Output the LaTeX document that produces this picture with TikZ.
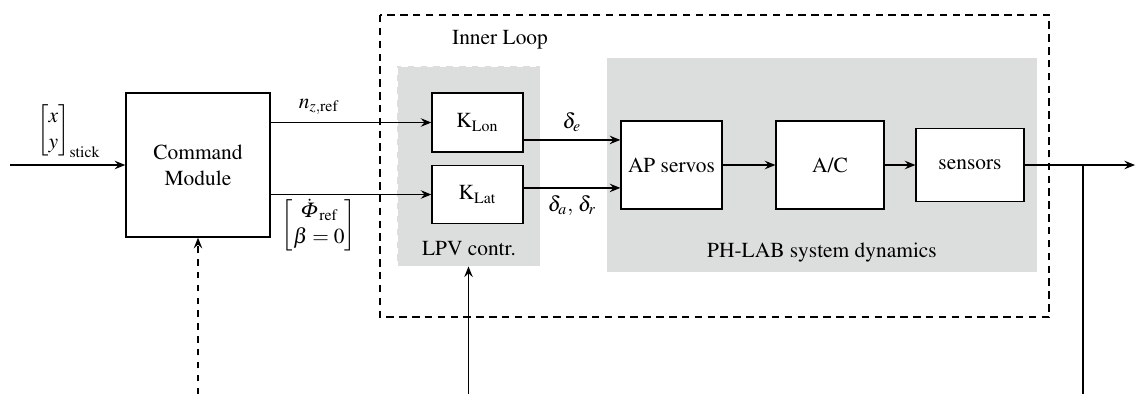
\documentclass[tikz,border=0pt]{standalone}
\usepackage{amsmath}
\usepackage[T1]{fontenc}
\usepackage{mathptmx}
\usetikzlibrary{arrows.meta}
\definecolor{grigio}{RGB}{220,221,221}
\newcommand{\phiobl}{\tikz[baseline=(phiobl.base)]\node[xslant=0.22, transform shape, inner sep=0pt] (phiobl) {$\Phi$};}
\tikzset{
  blocco/.style={draw, semithick, fill=white, align=center, inner sep=1pt},
  sfondo/.style={fill=grigio, inner sep=0pt},
  freccia/.style={semithick, -{Stealth[length=5pt,width=4pt,inset=1.8pt]}},
  anello/.style={semithick, dash pattern=on 3.5pt off 2.5pt}
}
\begin{document}
\begin{tikzpicture}[x=0.467pt,y=-0.467pt]
    %area del disegno
        \useasboundingbox (0,0) rectangle (1137,394);
        %riquadro anello interno
        \draw[anello] (380,15) rectangle (1049,317);
        \node (inner) at (500,40) {Inner Loop};
        %sfondi grigi
        \node[sfondo, draw=white, dashed, minimum width=66.8pt, minimum height=93.4pt] (lpv) at (468.5,166) {};
        \node[sfondo, minimum width=200.8pt, minimum height=99.9pt] (phlab) at (822,165) {};
        \node (lpvlab) at (469,249) {LPV contr.};
        \node (phlablab) at (822,253) {PH-LAB system dynamics};
        %disegno blocchi
        \node[blocco, minimum width=67.3pt, minimum height=67.3pt] (cmd) at (198,165) {Command\\Module};
        \node[blocco, minimum width=42.5pt, minimum height=27.5pt] (klon) at (477.5,122.5) {K$_{\text{Lon}}$};
        \node[blocco, minimum width=42.5pt, minimum height=27pt] (klat) at (477.5,194.5) {K$_{\text{Lat}}$};
        \node[blocco, minimum width=47.2pt, minimum height=41.1pt] (ap) at (671.5,165) {AP servos};
        \node[blocco, minimum width=50.4pt, minimum height=41.1pt] (ac) at (830,165) {A/C};
        \node[blocco, minimum width=50.4pt, minimum height=34.1pt] (sens) at (970,165) {sensors};
        %punti liberi
        \coordinate (ingresso) at (10,165);
        \coordinate (uscita) at (1135,165);
        \coordinate (nodo) at (1083,165);
        \coordinate (giu) at (1083,394);
        \coordinate (fb1) at (199,394);
        \coordinate (fb2) at (468.5,394);
        \coordinate (ape) at ([yshift=11.7pt]ap.west);
        \coordinate (apa) at ([yshift=-10.7pt]ap.west);
        %collegamenti
        \draw[freccia] (ingresso) -- (cmd.west);
        \node (stick) at (69,131) {$\begin{bmatrix}x\\ y\end{bmatrix}_{\text{stick}}$};
        \draw[freccia] (cmd.east |- klon.west) -- node[above, pos=0.3]{$n_{z,\text{ref}}$} (klon.west);
        \draw[freccia] (cmd.east |- klat.west) -- node[below, pos=0.3, inner sep=2pt]{$\begin{bmatrix}\dot{\phiobl}_{\text{ref}}\\ \beta=0\end{bmatrix}$} (klat.west);
        \draw[freccia] (klon.east |- ape) -- node[above]{$\delta_e$} (ape);
        \draw[freccia] (klat.east |- apa) -- node[below]{$\delta_a,\, \delta_r$} (apa);
        \draw[freccia] (ap) -- (ac);
        \draw[freccia] (ac) -- (sens);
        \draw[freccia] (sens) -- (uscita);
        \draw[semithick] (nodo) -- (giu);
        %retroazioni
        \draw[freccia, dashed] (cmd.south |- fb1) -- (cmd.south);
        \draw[freccia] (lpv.south |- fb2) -- (lpv.south);
\end{tikzpicture}
\end{document}
